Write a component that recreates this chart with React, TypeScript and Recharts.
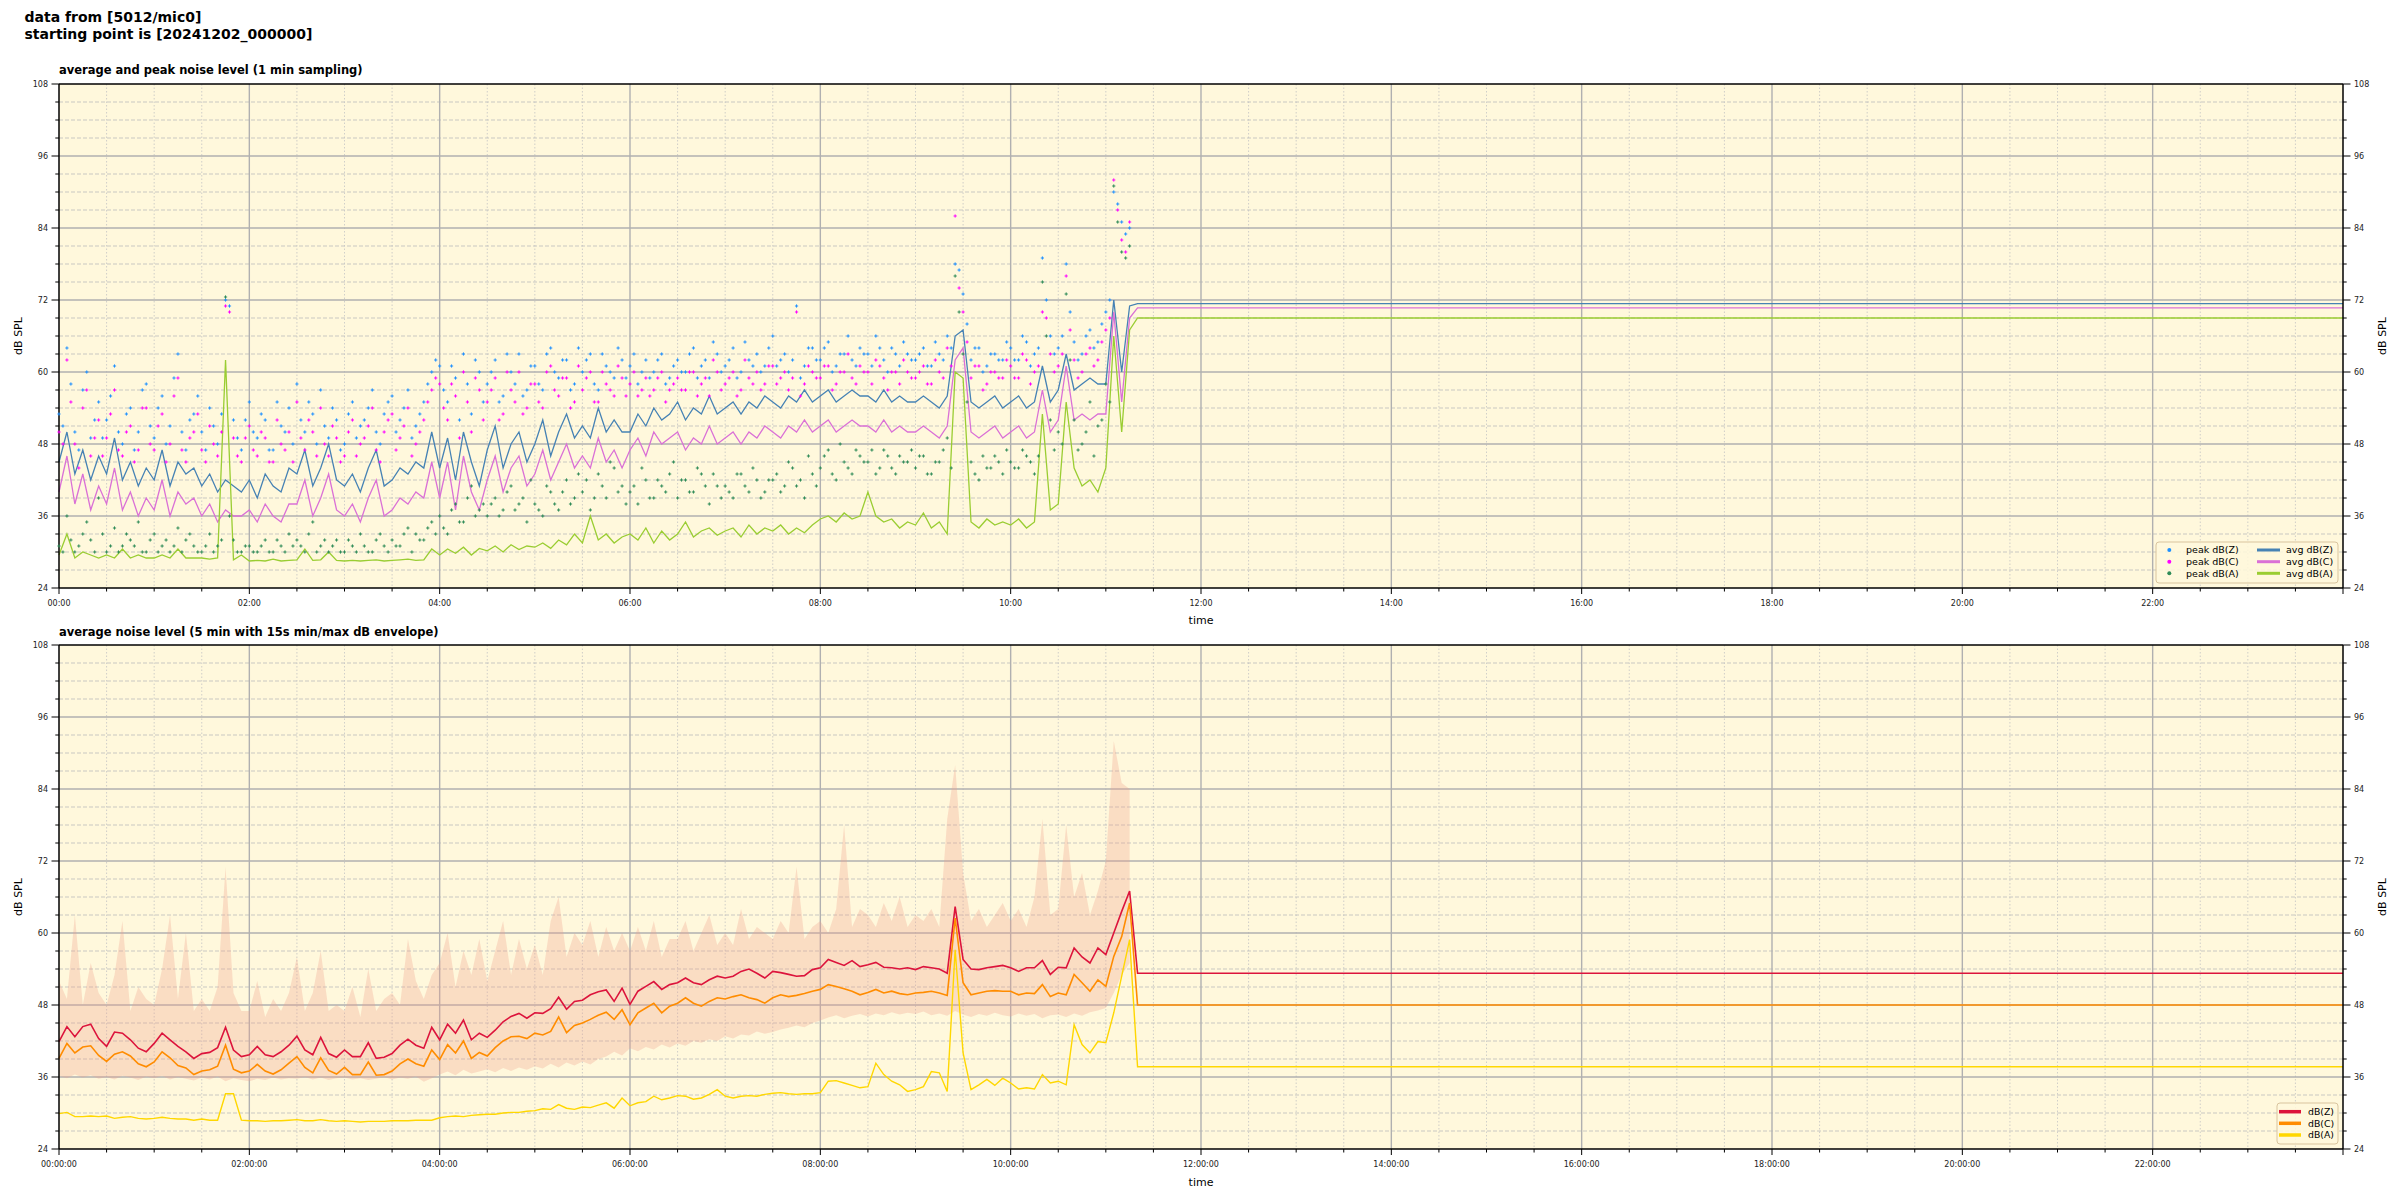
import { ComposedChart, Line, Scatter, Area, XAxis, YAxis, CartesianGrid, ReferenceLine } from "recharts";

const FONT = "'DejaVu Sans', sans-serif";
const PLOT_BG = "#FFF8DC";

// 5 min points from 00:00; the last value of each line array is the hold value drawn out to 24:00
const STEP_H = 5 / 60;

// ---- top panel: average and peak (1 min sampling), read per 5 min ----
const avgZ = [
  45, 50, 43, 47, 42, 46, 43, 49, 42, 45, 41, 44, 42, 47, 41, 45, 43, 44, 41, 43, 40, 42, 41, 40,
  42, 39, 43, 41, 40, 44, 43, 47, 41, 44, 48, 42, 41, 43, 40, 44, 47, 41, 42, 44, 43, 45, 44, 50,
  44, 49, 42, 50, 45, 41, 47, 51, 44, 48, 50, 45, 48, 52, 46, 50, 53, 49, 51, 49, 54, 50, 52, 50,
  50, 53, 51, 54, 52, 53, 55, 52, 54, 53, 56, 53, 54, 55, 53, 55, 54, 56, 55, 54, 56, 55, 57, 55,
  56, 57, 55, 56, 57, 56, 56, 55, 57, 55, 56, 55, 55, 56, 55, 54, 56, 66, 67, 55, 54, 55, 56, 54,
  55, 56, 54, 55, 61, 55, 57, 63, 57, 58, 59, 58, 58, 72, 60, 71, 71.4, 71.4,
];
const avgC = [
  40, 46, 38, 43, 37, 41, 38, 44, 37, 40, 36, 39, 37, 42, 36, 40, 38, 39, 36, 38, 35, 37, 36, 36,
  37, 35, 38, 36, 35, 38, 38, 42, 36, 39, 43, 37, 36, 38, 35, 39, 42, 36, 37, 39, 38, 40, 39, 45,
  39, 45, 37, 46, 40, 37, 42, 46, 40, 44, 46, 41, 43, 47, 42, 45, 48, 44, 46, 44, 49, 45, 47, 44,
  47, 49, 46, 50, 48, 49, 50, 47, 49, 48, 51, 48, 49, 50, 48, 50, 49, 51, 50, 49, 51, 50, 52, 50,
  51, 52, 50, 51, 52, 51, 51, 50, 52, 50, 51, 50, 50, 51, 50, 49, 51, 62, 64, 50, 49, 50, 51, 49,
  50, 51, 49, 50, 57, 50, 52, 61, 52, 53, 52, 53, 53, 70, 55, 69, 70.7, 70.7,
];
const avgA = [
  29.5, 33, 29, 30, 29.5, 29, 29.5, 29, 30.5, 29, 29.5, 29, 29, 29.5, 29, 30.5, 29, 29,
  29, 28.8, 29, 62, 28.7, 29.5, 28.5, 28.6, 28.5, 28.8, 28.5, 28.6, 28.7, 30.5, 28.6, 28.7, 30, 28.6,
  28.5, 28.6, 28.5, 28.6, 28.7, 28.5, 28.6, 28.7, 28.8, 28.6, 28.7, 30.5, 29.5, 30.5, 29.8, 30.8, 29.5, 30.6,
  30.2, 31, 30, 31.2, 30.4, 31, 30.8, 31.5, 30.6, 32, 31.2, 33, 31.5, 36, 32, 33, 31.5, 32.5,
  33, 32, 34, 31.5, 33.5, 32, 33, 35, 32.5, 33.5, 34, 32.8, 33.5, 34, 32.5, 34.5, 33, 34,
  33.5, 34.5, 33, 34, 33.2, 34.5, 35.5, 36, 35, 36.5, 35.5, 36, 40, 36, 35, 35.5, 34, 35,
  34.5, 36.5, 34, 35, 33, 60, 59, 35, 34, 35.5, 34.5, 35, 34.5, 35.5, 34, 35, 53, 37,
  38, 55, 44, 41, 42, 40, 44, 66, 50, 67, 69, 69,
];
// peaks on the 5 min marks
const peakZ = [
  53, 64, 50, 57, 49, 55, 52, 61, 48, 54, 50, 58, 49, 56, 51, 63, 47, 53, 50, 54, 48, 72, 52, 47,
  55, 49, 52, 47, 51, 54, 58, 50, 53, 57, 49, 52, 48, 55, 51, 54, 50, 53, 56, 52, 57, 51, 55, 60,
  61, 55, 59, 63, 53, 60, 58, 62, 56, 60, 63, 57, 61, 57, 64, 59, 62, 58, 60, 63, 57, 61, 59, 62,
  61, 58, 62, 60, 63, 59, 62, 60, 64, 61, 59, 63, 61, 64, 60, 62, 63, 61, 66, 62, 60, 71, 61, 64,
  62, 65, 61, 63, 62, 64, 63, 66, 62, 64, 61, 63, 62, 64, 61, 63, 66, 78, 73, 62, 64, 61, 63, 62,
  64, 62, 65, 63, 79, 66, 64, 78, 65, 63, 67, 65, 70, 90, 85, 84,
];
const peakC = [
  50, 62, 48, 54, 46, 52, 49, 57, 46, 51, 47, 54, 47, 53, 48, 59, 45, 50, 47, 51, 46, 71, 49, 45,
  51, 46, 49, 45, 48, 50, 55, 47, 50, 54, 46, 49, 46, 52, 48, 51, 47, 50, 53, 49, 54, 48, 52, 57,
  58, 52, 56, 60, 50, 57, 55, 59, 53, 57, 60, 54, 58, 54, 61, 56, 59, 55, 57, 60, 55, 58, 56, 59,
  58, 56, 59, 57, 60, 57, 59, 57, 60, 58, 56, 60, 58, 60, 57, 59, 60, 58, 61, 59, 57, 70, 58, 60,
  59, 61, 58, 60, 59, 61, 60, 62, 59, 60, 58, 60, 59, 61, 58, 60, 64, 86, 70, 59, 61, 58, 60, 59,
  61, 59, 62, 60, 70, 63, 61, 76, 62, 60, 64, 62, 67, 92, 82, 85,
];
const peakA = [
  31, 36, 30, 33, 32, 39, 30, 34, 31, 32, 35, 30, 33, 31, 30, 34, 32, 31, 30, 33, 31, 72.5, 32, 30,
  31, 30, 32, 30, 31, 33, 32, 30, 35, 31, 30, 32, 30, 31, 33, 30, 32, 31, 32, 31, 34, 33, 32, 35,
  36, 33, 38, 35, 41, 37, 36, 39, 37, 41, 38, 35, 38, 36, 40, 37, 42, 39, 40, 37, 43, 39, 44, 41,
  40, 38, 42, 39, 41, 43, 39, 42, 40, 43, 38, 41, 41, 39, 43, 40, 42, 40, 42, 40, 45, 41, 39, 43,
  44, 47, 42, 45, 43, 46, 45, 43, 47, 44, 46, 45, 44, 46, 43, 45, 49, 76, 63, 45, 42, 44, 46, 43,
  45, 44, 46, 43, 75, 52, 50, 73, 52, 48, 55, 51, 58, 91, 80, 81,
];
// peaks half way between the 5 min marks
const peakZ2 = [
  51, 58, 47, 60, 52, 49, 56, 50, 53, 47, 57, 51, 54, 48, 59, 50, 52, 56, 47, 51, 53, 71, 49, 52,
  50, 53, 47, 55, 50, 48, 52, 55, 48, 51, 54, 47, 53, 49, 52, 57, 48, 55, 50, 54, 49, 53, 58, 62,
  57, 61, 52, 58, 62, 55, 60, 55, 63, 58, 56, 61, 58, 63, 60, 62, 57, 64, 62, 58, 63, 60, 64, 59,
  63, 60, 59, 62, 58, 61, 60, 63, 59, 62, 65, 60, 62, 59, 65, 61, 60, 64, 61, 63, 62, 59, 64, 62,
  64, 60, 63, 66, 61, 63, 61, 64, 60, 63, 65, 62, 63, 61, 65, 62, 64, 77, 68, 64, 60, 63, 62, 65,
  62, 66, 61, 64, 72, 63, 66, 70, 62, 66, 64, 68, 72, 88, 83,
];
const peakC2 = [
  48, 55, 44, 57, 49, 46, 53, 47, 50, 45, 54, 48, 51, 45, 56, 47, 49, 53, 45, 48, 50, 70, 46, 49,
  47, 50, 45, 52, 47, 45, 49, 52, 46, 48, 51, 45, 50, 46, 49, 54, 45, 52, 47, 51, 46, 50, 55, 59,
  54, 58, 49, 55, 59, 52, 57, 52, 60, 55, 53, 58, 55, 60, 57, 59, 54, 61, 59, 55, 60, 57, 61, 56,
  60, 57, 56, 59, 55, 58, 57, 60, 56, 59, 62, 57, 59, 56, 62, 58, 57, 61, 58, 60, 59, 56, 61, 59,
  61, 57, 60, 63, 58, 60, 58, 61, 57, 60, 62, 59, 60, 58, 62, 59, 61, 74, 65, 61, 57, 60, 59, 62,
  59, 63, 58, 61, 69, 60, 63, 67, 59, 63, 61, 65, 69, 87, 80,
];
const peakA2 = [
  30, 32, 31, 35, 30, 33, 31, 30, 33, 31, 30, 32, 30, 32, 31, 30, 33, 30, 31, 30, 32, 36, 30, 31,
  30, 31, 30, 32, 30, 31, 31, 33, 30, 32, 31, 30, 32, 30, 31, 30, 33, 30, 31, 33, 30, 32, 34, 33,
  34, 37, 35, 39, 36, 38, 38, 36, 40, 37, 39, 42, 37, 41, 38, 40, 38, 43, 42, 39, 41, 45, 40, 38,
  41, 44, 39, 42, 40, 45, 42, 40, 44, 41, 43, 39, 40, 43, 41, 44, 39, 42, 43, 41, 44, 42, 46, 41,
  46, 43, 48, 44, 47, 45, 47, 44, 46, 43, 45, 47, 46, 43, 45, 47, 44, 70, 55, 43, 46, 44, 45, 47,
  44, 47, 45, 46, 66, 47, 48, 62, 47, 50, 46, 52, 55, 85, 79,
];

// ---- bottom panel: 5 min average + 15 s min/max envelope ----
const levZ = [
  41.9, 44.4, 42.7, 44.4, 44.8, 42.4, 41.1, 43.5, 43.3, 42.2, 40.8, 40.2,
  41.6, 43.3, 42.2, 41.1, 40.2, 39.1, 39.9, 40.1, 40.9, 44.3, 40.5, 39.4,
  39.7, 41.1, 39.7, 39.4, 40.2, 41.3, 42.8, 40.5, 39.7, 42.6, 39.9, 39.3,
  40.5, 39.4, 39.4, 41.7, 39.1, 39.3, 39.9, 41.3, 42.3, 41.3, 40.8, 44.3,
  42.2, 44.8, 43.3, 45.5, 42.2, 43.3, 42.6, 43.8, 45.2, 46.1, 46.6, 45.8,
  46.7, 46.6, 47.4, 49.3, 47.3, 48.6, 48.8, 49.7, 50.2, 50.5, 48.6, 50.8,
  48.1, 50.3, 51.1, 51.9, 50.6, 51.4, 51.7, 52.5, 51.7, 51.4, 52.2, 52.8,
  52.5, 52.8, 53.6, 54.0, 53.3, 52.5, 53.6, 53.4, 53.1, 52.8, 52.9, 53.9,
  54.2, 55.6, 55.1, 54.6, 55.4, 54.4, 54.7, 55.1, 54.3, 54.2, 54.0, 54.2,
  53.9, 54.4, 54.2, 54.0, 53.3, 64.4, 55.6, 54.0, 53.9, 54.2, 54.4, 54.6,
  54.2, 53.6, 54.2, 54.2, 55.4, 53.1, 54.3, 54.2, 57.5, 56.0, 55.0, 57.5,
  56.4, 60.0, 63.6, 67.0, 53.3, 53.3,
];
const levC = [
  39.1, 41.6, 40.0, 41.0, 41.2, 39.6, 38.6, 39.8, 40.2, 39.5, 38.2, 37.7,
  38.5, 40.2, 39.2, 37.9, 37.5, 36.4, 37.0, 37.2, 37.8, 41.3, 37.3, 36.7,
  37.0, 38.1, 37.0, 36.5, 37.2, 38.3, 39.4, 37.6, 36.7, 39.2, 37.1, 36.5,
  37.6, 36.4, 36.4, 38.5, 36.3, 36.4, 37.0, 38.2, 39.0, 38.2, 37.8, 40.5,
  38.9, 41.4, 40.0, 42.0, 39.1, 40.1, 39.5, 40.9, 42.0, 42.7, 42.8, 42.4,
  43.3, 43.0, 43.6, 46.0, 43.4, 44.6, 45.0, 45.6, 46.3, 46.8, 45.6, 47.2,
  44.7, 46.7, 47.5, 48.3, 46.7, 47.8, 48.3, 49.2, 48.3, 47.8, 48.6, 49.2,
  49.0, 49.4, 49.7, 49.2, 48.9, 48.3, 49.2, 49.7, 49.4, 49.6, 49.9, 50.3,
  50.6, 51.4, 51.1, 50.7, 50.3, 49.7, 50.1, 50.6, 50.0, 50.3, 49.9, 49.7,
  50.0, 50.1, 50.3, 50.0, 49.6, 62.5, 51.7, 49.7, 50.0, 50.3, 50.4, 50.3,
  50.3, 49.7, 50.0, 49.9, 51.4, 49.4, 50.0, 49.7, 53.1, 51.7, 50.3, 52.2,
  51.1, 56.1, 59.4, 65.0, 48.0, 48.0,
];
const levA = [
  29.9, 30.1, 29.4, 29.4, 29.5, 29.4, 29.5, 29.1, 29.3, 29.4, 29.1, 29.0,
  29.1, 29.3, 29.1, 29.0, 29.0, 28.8, 29.0, 28.8, 28.8, 33.2, 33.2, 28.8,
  28.7, 28.7, 28.6, 28.7, 28.7, 28.8, 28.9, 28.7, 28.7, 28.9, 28.7, 28.6,
  28.7, 28.6, 28.5, 28.6, 28.6, 28.6, 28.7, 28.7, 28.7, 28.8, 28.8, 28.8,
  29.2, 29.4, 29.5, 29.4, 29.6, 29.7, 29.8, 29.8, 30.0, 30.1, 30.1, 30.3,
  30.4, 30.7, 30.6, 31.4, 30.8, 30.6, 31.0, 30.9, 31.3, 31.7, 30.8, 32.5,
  31.2, 31.7, 31.9, 32.8, 32.2, 32.5, 32.9, 32.8, 32.3, 32.5, 33.1, 33.9,
  32.8, 32.5, 32.8, 32.9, 32.8, 33.1, 33.3, 33.4, 33.2, 33.1, 33.2, 33.2,
  33.4, 35.3, 35.4, 35.0, 34.6, 34.2, 34.4, 38.3, 36.4, 35.3, 34.7, 33.6,
  33.9, 34.4, 36.9, 36.7, 33.6, 57.2, 40.0, 33.9, 34.7, 35.6, 34.6, 35.8,
  35.0, 34.0, 34.2, 34.0, 36.4, 35.0, 35.3, 34.7, 44.7, 41.4, 40.0, 41.9,
  41.7, 46.7, 52.8, 58.9, 37.7, 37.7,
];
const envMin = [
  36.2, 35.8, 36.4, 35.9, 36.3, 35.7, 36.0, 35.6, 36.2, 35.9, 35.5, 36.1,
  35.8, 36.2, 35.6, 36.0, 35.7, 35.4, 35.9, 35.6, 36.1, 35.3, 35.8, 35.5,
  35.3, 35.7, 35.5, 35.9, 35.6, 35.8, 35.7, 36.0, 35.6, 35.9, 35.5, 35.8,
  35.9, 35.6, 35.8, 35.5, 35.7, 36.0, 35.6, 35.9, 35.7, 36.1, 35.2, 35.8,
  36.4, 36.9, 36.3, 37.2, 36.6, 36.9, 37.3, 36.8, 37.5, 37.0, 37.6, 37.2,
  37.8, 37.4, 38.2, 37.6, 38.4, 37.9, 38.6, 38.1, 39.0, 39.4, 40.2, 39.6,
  40.8, 40.3, 41.0, 40.6, 41.4, 40.9, 41.6, 41.2, 42.0, 41.7, 42.3, 42.0,
  42.8, 42.4, 43.1, 42.9, 43.6, 43.2, 43.5, 43.9, 44.2, 44.6, 44.3, 45.0,
  45.4, 45.9, 46.3, 45.8, 46.2, 46.5, 46.1, 46.6, 46.3, 46.8, 46.4, 46.7,
  46.5, 46.9, 46.3, 46.6, 46.2, 47.0, 46.4, 46.0, 46.5, 46.2, 46.7, 46.3,
  46.1, 46.6, 46.2, 46.5, 45.8, 46.3, 46.4, 46.0, 46.6, 46.2, 46.8, 47.1,
  47.5, 50.0, 53.0, 55.0,
];
const envMax = [
  52, 49, 63, 48, 55, 50, 48, 53, 62, 47, 51, 49, 48, 54, 63, 49, 60, 47, 49, 47, 51, 71, 50, 47,
  47, 52, 46, 49, 47, 50, 56, 47, 50, 57, 47, 48, 47, 51, 46, 54, 47, 49, 50, 48, 59, 52, 49, 53,
  55, 60, 51, 57, 53, 59, 52, 57, 62, 53, 59, 54, 58, 53, 62, 66, 56, 60, 58, 62, 56, 61, 57, 60,
  57, 61, 57, 62, 56, 59, 59, 62, 57, 60, 63, 58, 60, 58, 64, 59, 61, 60, 59, 62, 60, 71, 59, 61,
  62, 60, 64, 78, 61, 64, 63, 61, 65, 62, 66, 61, 63, 62, 64, 61, 79, 88, 70, 62, 64, 61, 63, 65,
  62, 64, 61, 66, 79, 63, 64, 78, 66, 70, 63, 67, 72, 92, 85, 84,
];

const yTicks = [24, 27, 30, 33, 36, 39, 42, 45, 48, 51, 54, 57, 60, 63, 66, 69, 72, 75, 78, 81, 84, 87, 90, 93, 96, 99, 102, 105, 108];
const xTicks = [
  0, 0.5, 1, 1.5, 2, 2.5, 3, 3.5, 4, 4.5, 5, 5.5, 6, 6.5, 7, 7.5, 8, 8.5, 9, 9.5, 10, 10.5, 11, 11.5,
  12, 12.5, 13, 13.5, 14, 14.5, 15, 15.5, 16, 16.5, 17, 17.5, 18, 18.5, 19, 19.5, 20, 20.5, 21, 21.5,
  22, 22.5, 23, 23.5, 24,
];
const yMajorGrid = yTicks.filter((v) => v % 12 === 0 && v > 24 && v < 108);
const yMinorGrid = yTicks.filter((v) => v % 12 !== 0);
const xMajorGrid = xTicks.filter((v) => v % 2 === 0 && v > 0 && v < 24);
const xMinorGrid = xTicks.filter((v) => v % 2 !== 0);

const lineTimes = avgZ.map((_, i) => (i === avgZ.length - 1 ? 24 : i * STEP_H));
const topRows = lineTimes.map((t, i) => ({ t, z: avgZ[i], c: avgC[i], a: avgA[i] }));
const bottomRows = lineTimes.map((t, i) => ({
  t,
  z: levZ[i],
  c: levC[i],
  a: levA[i],
  env: i < envMin.length ? [envMin[i], envMax[i]] : null,
}));
const toPoints = (vals: number[], shift = 0) => vals.map((v, i) => ({ t: (i + shift) * STEP_H, v }));

const hh = (v: number) => String(v).padStart(2, "0");

function XTick(props: any) {
  const { x, y, payload, seconds } = props;
  const v = payload.value as number;
  const major = v % 2 === 0;
  const len = major ? 6 : 3.5;
  const label = seconds ? `${hh(v)}:00:00` : `${hh(v)}:00`;
  return (
    <g>
      <line x1={x} y1={y} x2={x} y2={y + len} stroke="#000" strokeWidth={1} />
      {major && v < 24 && (
        <text x={x} y={y + 18} textAnchor="middle" fontSize={8} fontFamily={FONT} fill="#222">
          {label}
        </text>
      )}
    </g>
  );
}

function YTick(props: any) {
  const { x, y, payload, side } = props;
  const v = payload.value as number;
  const major = v % 12 === 0;
  const len = major ? 7.5 : 3.7;
  const dir = side === "left" ? -1 : 1;
  return (
    <g>
      <line x1={x} y1={y} x2={x + dir * len} y2={y} stroke="#000" strokeWidth={1} />
      {major && (
        <text
          x={x + dir * (len + 3.5)}
          y={y + 3}
          textAnchor={side === "left" ? "end" : "start"}
          fontSize={8}
          fontFamily={FONT}
          fill="#222"
        >
          {v}
        </text>
      )}
    </g>
  );
}

function Cross(color: string) {
  return (p: any) =>
    p.cx == null || p.cy == null ? <g /> : (
      <path d={`M${p.cx - 1.6},${p.cy}h3.2M${p.cx},${p.cy - 1.6}v3.2`} stroke={color} strokeWidth={1} fill="none" />
    );
}

function Frame({ seconds }: { seconds?: boolean }) {
  return [
    <CartesianGrid
      key="gminh"
      yAxisId="left"
      fill={PLOT_BG}
      vertical={false}
      horizontalValues={yMinorGrid}
      stroke="#bbbbbb"
      strokeWidth={0.8}
      strokeDasharray="4 2"
    />,
    <CartesianGrid
      key="gminv"
      yAxisId="left"
      horizontal={false}
      verticalValues={xMinorGrid}
      stroke="#c4c4c4"
      strokeWidth={0.8}
      strokeDasharray="1.5 2"
    />,
    <CartesianGrid
      key="gmaj"
      yAxisId="left"
      horizontalValues={yMajorGrid}
      verticalValues={xMajorGrid}
      stroke="#b0b0b0"
      strokeWidth={1.4}
    />,
    <XAxis
      key="x"
      dataKey="t"
      type="number"
      domain={[0, 24]}
      ticks={xTicks}
      interval={0}
      height={30}
      tickLine={false}
      tickSize={0}
      tickMargin={0}
      axisLine={{ stroke: "#000", strokeWidth: 1.5 }}
      tick={(p: any) => <XTick {...p} seconds={seconds} />}
    />,
    <YAxis
      key="yl"
      yAxisId="left"
      orientation="left"
      type="number"
      domain={[24, 108]}
      ticks={yTicks}
      interval={0}
      width={40}
      tickLine={false}
      tickSize={0}
      tickMargin={0}
      axisLine={{ stroke: "#000", strokeWidth: 1.5 }}
      tick={(p: any) => <YTick {...p} side="left" />}
    />,
    <YAxis
      key="yr"
      yAxisId="right"
      orientation="right"
      type="number"
      domain={[24, 108]}
      ticks={yTicks}
      interval={0}
      width={40}
      tickLine={false}
      tickSize={0}
      tickMargin={0}
      axisLine={{ stroke: "#000", strokeWidth: 1.5 }}
      tick={(p: any) => <YTick {...p} side="right" />}
    />,
    <ReferenceLine key="top" yAxisId="left" y={108} stroke="#000" strokeWidth={1.5} />,
    // twin axis: keeps the right-hand dB scale bound to the same values
    <Line key="twin" yAxisId="right" dataKey="z" stroke="none" dot={false} activeDot={false} isAnimationActive={false} legendType="none" />,
  ];
}

function TopChart() {
  return (
    <ComposedChart width={2400} height={640} data={topRows} margin={{ top: 84, right: 17, bottom: 22, left: 19 }}>
      {Frame({})}
      <Scatter yAxisId="left" data={toPoints(peakZ)} dataKey="v" shape={Cross("#1E90FF")} isAnimationActive={false} />
      <Scatter yAxisId="left" data={toPoints(peakZ2, 0.5)} dataKey="v" shape={Cross("#1E90FF")} isAnimationActive={false} />
      <Scatter yAxisId="left" data={toPoints(peakC)} dataKey="v" shape={Cross("#FF00FF")} isAnimationActive={false} />
      <Scatter yAxisId="left" data={toPoints(peakC2, 0.5)} dataKey="v" shape={Cross("#FF00FF")} isAnimationActive={false} />
      <Scatter yAxisId="left" data={toPoints(peakA)} dataKey="v" shape={Cross("#2E8B57")} isAnimationActive={false} />
      <Scatter yAxisId="left" data={toPoints(peakA2, 0.5)} dataKey="v" shape={Cross("#2E8B57")} isAnimationActive={false} />
      <Line yAxisId="left" type="linear" dataKey="z" stroke="#4682B4" strokeWidth={1.3} dot={false} activeDot={false} isAnimationActive={false} />
      <Line yAxisId="left" type="linear" dataKey="c" stroke="#DA70D6" strokeWidth={1.3} dot={false} activeDot={false} isAnimationActive={false} />
      <Line yAxisId="left" type="linear" dataKey="a" stroke="#9ACD32" strokeWidth={1.3} dot={false} activeDot={false} isAnimationActive={false} />
    </ComposedChart>
  );
}

function BottomChart() {
  return (
    <ComposedChart width={2400} height={560} data={bottomRows} margin={{ top: 5, right: 17, bottom: 21, left: 19 }}>
      {Frame({ seconds: true })}
      <Area yAxisId="left" type="linear" dataKey="env" stroke="none" fill="#EFA08C" fillOpacity={0.3} isAnimationActive={false} activeDot={false} />
      <Line yAxisId="left" type="linear" dataKey="z" stroke="#DC143C" strokeWidth={1.6} dot={false} activeDot={false} isAnimationActive={false} />
      <Line yAxisId="left" type="linear" dataKey="c" stroke="#FF8C00" strokeWidth={1.6} dot={false} activeDot={false} isAnimationActive={false} />
      <Line yAxisId="left" type="linear" dataKey="a" stroke="#FFD700" strokeWidth={1.4} dot={false} activeDot={false} isAnimationActive={false} />
    </ComposedChart>
  );
}

const topLegendPeaks = [
  { label: "peak dB(Z)", color: "#1E90FF" },
  { label: "peak dB(C)", color: "#FF00FF" },
  { label: "peak dB(A)", color: "#2E8B57" },
];
const topLegendAvg = [
  { label: "avg dB(Z)", color: "#4682B4" },
  { label: "avg dB(C)", color: "#DA70D6" },
  { label: "avg dB(A)", color: "#9ACD32" },
];
const bottomLegend = [
  { label: "dB(Z)", color: "#DC143C" },
  { label: "dB(C)", color: "#FF8C00" },
  { label: "dB(A)", color: "#FFD700" },
];

function Overlay() {
  const rowY = [550, 561.7, 573.3];
  const rowYb = [1111.7, 1123.3, 1135];
  return (
    <svg width={2400} height={1200} style={{ position: "absolute", left: 0, top: 0, pointerEvents: "none" }} fontFamily={FONT}>
      <text x={24.5} y={22.3} fontSize={14} fontWeight="bold">data from [5012/mic0]</text>
      <text x={24.5} y={38.9} fontSize={14} fontWeight="bold">starting point is [20241202_000000]</text>
      <text x={59} y={74} fontSize={11.5} fontWeight="bold">average and peak noise level (1 min sampling)</text>
      <text x={59} y={635.5} fontSize={11.5} fontWeight="bold">average noise level (5 min with 15s min/max dB envelope)</text>

      <text transform="translate(22,336) rotate(-90)" textAnchor="middle" fontSize={11}>dB SPL</text>
      <text transform="translate(2386,336) rotate(-90)" textAnchor="middle" fontSize={11}>dB SPL</text>
      <text transform="translate(22,897) rotate(-90)" textAnchor="middle" fontSize={11}>dB SPL</text>
      <text transform="translate(2386,897) rotate(-90)" textAnchor="middle" fontSize={11}>dB SPL</text>
      <text x={1201} y={624} textAnchor="middle" fontSize={11}>time</text>
      <text x={1201} y={1186} textAnchor="middle" fontSize={11}>time</text>

      <rect x={2156} y={542} width={182} height={41} rx={3} fill={PLOT_BG} fillOpacity={0.85} stroke="#D9C49E" strokeWidth={1} />
      {topLegendPeaks.map((d, i) => (
        <g key={d.label}>
          <circle cx={2169.3} cy={rowY[i]} r={2} fill={d.color} />
          <text x={2186} y={rowY[i] + 3.4} fontSize={9.5}>{d.label}</text>
        </g>
      ))}
      {topLegendAvg.map((d, i) => (
        <g key={d.label}>
          <line x1={2257} x2={2280} y1={rowY[i]} y2={rowY[i]} stroke={d.color} strokeWidth={3} />
          <text x={2286} y={rowY[i] + 3.4} fontSize={9.5}>{d.label}</text>
        </g>
      ))}

      <rect x={2277} y={1103} width={61} height={41} rx={3} fill={PLOT_BG} fillOpacity={0.85} stroke="#D9C49E" strokeWidth={1} />
      {bottomLegend.map((d, i) => (
        <g key={d.label}>
          <line x1={2279} x2={2301} y1={rowYb[i]} y2={rowYb[i]} stroke={d.color} strokeWidth={3.5} />
          <text x={2308} y={rowYb[i] + 3.4} fontSize={9.3}>{d.label}</text>
        </g>
      ))}
    </svg>
  );
}

export default function App() {
  return (
    <div style={{ position: "absolute", left: 0, top: 0, width: 2400, height: 1200, background: "#fff", overflow: "hidden" }}>
      <div style={{ position: "absolute", left: 0, top: 0 }}>
        <TopChart />
      </div>
      <div style={{ position: "absolute", left: 0, top: 640 }}>
        <BottomChart />
      </div>
      <Overlay />
    </div>
  );
}
